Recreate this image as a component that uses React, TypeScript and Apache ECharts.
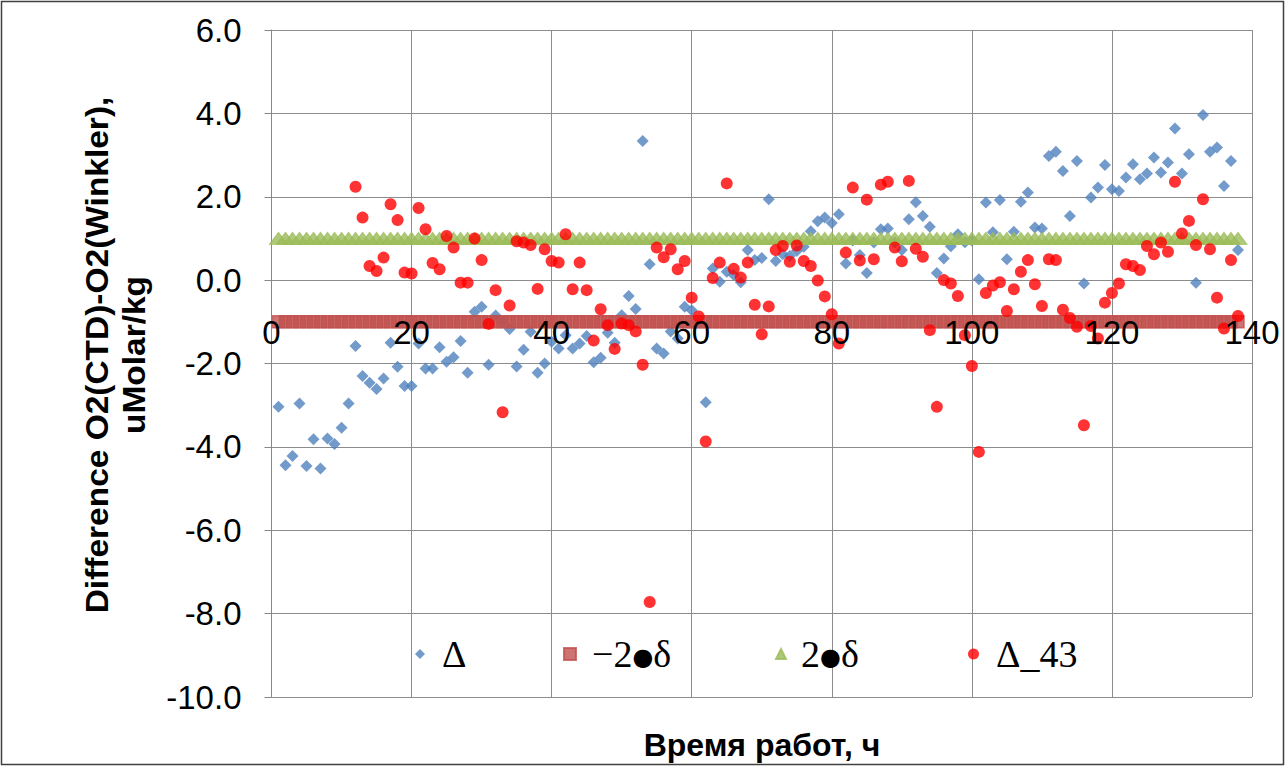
import React, { useEffect, useRef } from "react";
import * as echarts from "echarts";

// Hours (x positions) for the measured series
const deltaHours: number[] = [
  1, 2, 3, 4, 5, 6, 7, 8, 9, 10, 11, 12, 13, 14, 15, 16, 17, 18, 19, 20,
  21, 22, 23, 24, 25, 26, 27, 28, 29, 30, 31, 32, 33, 34, 35, 36, 37, 38, 39, 40,
  41, 42, 43, 44, 45, 46, 47, 48, 49, 50, 51, 52, 53, 54, 55, 56, 57, 58, 59, 60,
  61, 62, 63, 64, 65, 66, 67, 68, 69, 70, 71, 72, 73, 74, 75, 76, 77, 78, 79, 80,
  81, 82, 83, 84, 85, 86, 87, 88, 89, 90, 91, 92, 93, 94, 95, 96, 97, 98, 99, 100,
  101, 102, 103, 104, 105, 106, 107, 108, 109, 110, 111, 112, 113, 114, 115, 116, 117, 118, 119, 120,
  121, 122, 123, 124, 125, 126, 127, 128, 129, 130, 131, 132, 133, 134, 135, 136, 137, 138,
];

// Δ values (blue diamonds), one per hour in deltaHours
const deltaValues: number[] = [
  -3.04, -4.44, -4.22, -2.96, -4.46, -3.82, -4.52, -3.8, -3.93, -3.54,
  -2.96, -1.58, -2.3, -2.46, -2.61, -2.36, -1.5, -2.08, -2.54, -2.54,
  -1.52, -2.12, -2.12, -1.61, -1.96, -1.85, -1.46, -2.22, -0.76, -0.64,
  -2.03, -0.85, -1.0, -1.17, -2.07, -1.67, -1.24, -2.22, -2.0, -1.48,
  -1.64, -1.32, -1.64, -1.52, -1.34, -1.97, -1.86, -1.26, -1.5, -0.84,
  -0.38, -0.69, 3.34, 0.38, -1.64, -1.76, -1.23, -1.4, -0.64, -0.72,
  -1.0, -2.93, 0.28, -0.04, 0.2, 0.12, -0.05, 0.72, 0.48, 0.53,
  1.94, 0.46, 0.62, 0.58, 0.7, 0.8, 1.17, 1.41, 1.5, 1.37,
  1.58, 0.4, 0.95, 0.6, 0.17, 0.9, 1.22, 1.24, 0.9, 0.72,
  1.46, 1.87, 1.54, 1.28, 0.17, 0.52, 0.81, 1.1, 0.91, 0.95,
  0.02, 1.86, 1.15, 1.92, 0.5, 1.16, 1.88, 2.1, 1.26, 1.24,
  2.98, 3.08, 2.62, 1.54, 2.86, -0.08, 1.98, 2.22, 2.76, 2.18,
  2.14, 2.46, 2.78, 2.42, 2.56, 2.94, 2.58, 2.82, 3.64, 2.56,
  3.02, -0.06, 3.96, 3.08, 3.18, 2.26, 2.86, 0.72,
];

// Hours for Δ_43 (red circles)
const delta43Hours: number[] = [
  12, 13, 14, 15, 16, 17, 18, 19, 20,
  21, 22, 23, 24, 25, 26, 27, 28, 29, 30, 31, 32, 33, 34, 35, 36, 37, 38, 39, 40,
  41, 42, 43, 44, 45, 46, 47, 48, 49, 50, 51, 52, 53, 54, 55, 56, 57, 58, 59, 60,
  61, 62, 63, 64, 65, 66, 67, 68, 69, 70, 71, 72, 73, 74, 75, 76, 77, 78, 79, 80,
  81, 82, 83, 84, 85, 86, 87, 88, 89, 90, 91, 92, 93, 94, 95, 96, 97, 98, 99, 100,
  101, 102, 103, 104, 105, 106, 107, 108, 109, 110, 111, 112, 113, 114, 115, 116, 117, 118, 119, 120,
  121, 122, 123, 124, 125, 126, 127, 128, 129, 130, 131, 132, 133, 134, 135, 136, 137, 138,
];

const delta43Values: number[] = [
  2.24, 1.5, 0.34, 0.22, 0.54, 1.82, 1.44, 0.18, 0.16,
  1.73, 1.22, 0.41, 0.26, 1.06, 0.78, -0.06, -0.06, 1.0, 0.48,
  -1.05, -0.24, -3.17, -0.61, 0.93, 0.9, 0.84, -0.21, 0.74, 0.46,
  0.42, 1.1, -0.22, 0.42, -0.24, -1.45, -0.7, -1.08, -1.65, -1.04,
  -1.08, -1.23, -2.03, -7.72, 0.78, 0.55, 0.74, 0.26, 0.46, -0.42,
  -0.87, -3.87, 0.05, 0.42, 2.32, 0.27, 0.06, 0.42, -0.59, -1.3,
  -0.63, 0.72, 0.82, 0.44, 0.83, 0.46, 0.34, -0.01, -0.39, -0.82,
  -1.52, 0.66, 2.22, 0.47, 1.93, 0.5, 2.29, 2.36, 0.78, 0.45,
  2.38, 0.75, 0.56, -1.2, -3.04, 0.0, -0.08, -0.38, -1.32, -2.06,
  -4.12, -0.31, -0.13, -0.05, -0.74, -0.22, 0.2, 0.48, -0.1, -0.62,
  0.5, 0.48, -0.71, -0.91, -1.12, -3.48, -1.1, -1.4, -0.54, -0.31,
  -0.08, 0.38, 0.34, 0.24, 0.82, 0.62, 0.9, 0.68, 2.36, 1.12,
  1.42, 0.84, 1.94, 0.74, -0.42, -1.16, 0.48, -0.86,
];

// Limits ±2δ, drawn at every hour
const lowerLimit = -1.0;
const upperLimit = 1.0;

const xTicks = { min: 0, max: 140, interval: 20 };
const yTicks = { min: -10, max: 6, interval: 2 };

const seriesNames = ["Δ", "−2●δ", "2●δ", "Δ_43"];
const yTitleLines = ["Difference O2(CTD)-O2(Winkler),", "uMolar/kg"];
const xTitle = "Время работ, ч";

const SANS = "Liberation Sans, Arial, sans-serif";
const SERIF = "Liberation Serif, Times New Roman, serif";

const GRID = { left: 271.5, right: 34, top: 30, bottom: 70 };
const CHART_H = 767;

export default function App() {
  const ref = useRef<HTMLDivElement>(null);

  useEffect(() => {
    document.body.style.margin = "0";
    if (!ref.current) return;
    const chart = echarts.init(ref.current, undefined, { renderer: "svg" });

    const pair = (xs: number[], ys: number[]) => xs.map((x, i) => [x, ys[i]]);
    const lowerData = deltaHours.map((h) => [h, lowerLimit]);
    const upperData = deltaHours.map((h) => [h, upperLimit]);

    // the x axis labels sit on the y = 0 line
    const plotH = CHART_H - GRID.top - GRID.bottom;
    const zeroFromBottom = (plotH * (0 - yTicks.min)) / (yTicks.max - yTicks.min);

    const legendText = {
      fontFamily: SERIF,
      fontSize: 38,
      color: "#000",
      rich: {
        d: { fontFamily: "DejaVu Sans", fontSize: 24, color: "#000", padding: [6, 0, 0, 0] },
      },
    };
    const legendFormatter = (name: string) => name.replace("●", "{d|●}");
    const legendCommon = {
      top: 630,
      orient: "horizontal" as const,
      itemGap: 0,
      formatter: legendFormatter,
    };

    const yTitleStyle = {
      fontFamily: SANS,
      fontSize: 31,
      fontWeight: "bold",
      fill: "#000",
      textAlign: "center",
      textVerticalAlign: "middle",
    };

    chart.setOption({
      animation: false,
      backgroundColor: "#fff",
      grid: { ...GRID, containLabel: false },
      xAxis: [
        {
          type: "value",
          ...xTicks,
          position: "bottom",
          offset: -zeroFromBottom,
          axisLine: { show: false, onZero: false },
          axisTick: { show: false },
          splitLine: { show: false },
          axisLabel: {
            show: true,
            fontFamily: SANS,
            fontSize: 33,
            color: "#000",
            margin: 36,
          },
          z: 10,
        },
        {
          type: "value",
          ...xTicks,
          position: "bottom",
          axisLine: { show: false, onZero: false },
          axisTick: { show: false },
          axisLabel: { show: false },
          splitLine: { show: true, lineStyle: { color: "#8c8c8c", width: 1 } },
          z: 0,
        },
      ],
      yAxis: {
        type: "value",
        ...yTicks,
        axisLine: { show: true, onZero: false, lineStyle: { color: "#888", width: 1 } },
        axisTick: { show: true, inside: false, length: 7, lineStyle: { color: "#888" } },
        axisLabel: {
          fontFamily: SANS,
          fontSize: 33,
          color: "#000",
          margin: 30,
          formatter: (v: number) => v.toFixed(1),
        },
        splitLine: { show: true, lineStyle: { color: "#8c8c8c", width: 1 } },
      },
      legend: [
        {
          ...legendCommon,
          left: 410,
          data: [{ name: seriesNames[0], icon: "diamond" }],
          itemWidth: 10,
          itemHeight: 10,
          textStyle: { ...legendText, padding: [0, 0, 0, 12] },
        },
        {
          ...legendCommon,
          left: 558,
          data: [{ name: seriesNames[1], icon: "rect" }],
          itemWidth: 12,
          itemHeight: 12,
          textStyle: { ...legendText, padding: [0, 0, 0, 11] },
        },
        {
          ...legendCommon,
          left: 770,
          data: [{ name: seriesNames[2], icon: "triangle" }],
          itemWidth: 10,
          itemHeight: 10,
          textStyle: { ...legendText, padding: [0, 0, 0, 10] },
        },
        {
          ...legendCommon,
          left: 963,
          data: [{ name: seriesNames[3], icon: "circle" }],
          itemWidth: 11,
          itemHeight: 11,
          textStyle: { ...legendText, padding: [0, 0, 0, 12] },
        },
      ],
      series: [
        {
          name: seriesNames[0],
          type: "scatter",
          xAxisIndex: 0,
          symbol: "diamond",
          symbolSize: 12,
          itemStyle: { color: "#4F81BD" },
          data: pair(deltaHours, deltaValues),
        },
        {
          name: seriesNames[1],
          type: "scatter",
          xAxisIndex: 0,
          symbol: "rect",
          symbolSize: 12,
          itemStyle: { color: "#C0504D", borderColor: "#C0504D", borderWidth: 1.5 },
          data: lowerData,
        },
        {
          name: seriesNames[2],
          type: "scatter",
          xAxisIndex: 0,
          symbol: "triangle",
          symbolSize: [18, 12],
          itemStyle: { color: "#9BBB59", borderColor: "#9BBB59", borderWidth: 1 },
          data: upperData,
        },
        {
          name: seriesNames[3],
          type: "scatter",
          xAxisIndex: 0,
          symbol: "circle",
          symbolSize: 12,
          itemStyle: { color: "#FF0000" },
          data: pair(delta43Hours, delta43Values),
        },
      ],
      graphic: [
        {
          type: "text",
          x: 97,
          y: 355,
          rotation: Math.PI / 2,
          scaleX: 1.08,
          style: { ...yTitleStyle, text: yTitleLines[0] },
        },
        {
          type: "text",
          x: 134,
          y: 355,
          rotation: Math.PI / 2,
          scaleX: 1.08,
          style: { ...yTitleStyle, text: yTitleLines[1] },
        },
        {
          type: "text",
          x: 762,
          y: 745,
          style: {
            text: xTitle,
            fontFamily: SANS,
            fontSize: 32,
            fontWeight: "bold",
            fill: "#000",
            textAlign: "center",
            textVerticalAlign: "middle",
          },
        },
        {
          type: "rect",
          shape: { x: 1.5, y: 1.5, width: 1282, height: 763 },
          style: { fill: "none", stroke: "#404040", lineWidth: 1.5 },
          silent: true,
        },
      ],
    });

    return () => chart.dispose();
  }, []);

  return <div ref={ref} style={{ width: 1286, height: 767 }} />;
}
